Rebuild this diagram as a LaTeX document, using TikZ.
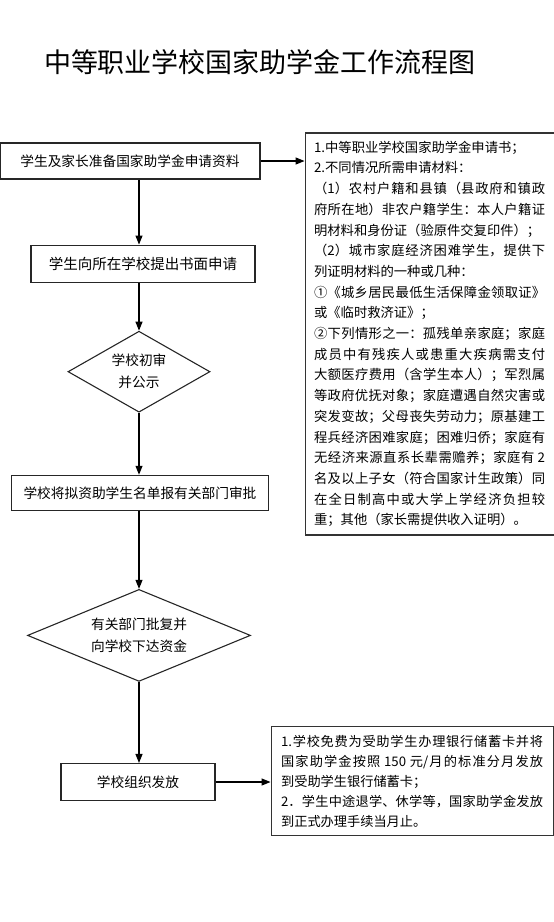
\documentclass[tikz,border=0pt]{standalone}
\usepackage{fontspec}
\setmainfont{Noto Sans CJK SC}
\usetikzlibrary{arrows.meta,positioning,calc,shapes.geometric}
\XeTeXlinebreaklocale "zh"
\XeTeXlinebreakskip=0pt plus 2pt

\begin{document}
\begin{tikzpicture}[
    x=1pt, y=-1pt,
    font=\fontsize{13.7}{22}\selectfont,
    box/.style={rectangle, draw=black!85, line width=1.1pt, align=center, inner sep=0pt},
    decide/.style={diamond, draw=black!85, line width=1.1pt, align=center, inner sep=0pt},
    note/.style={rectangle, draw=black!80, line width=1.1pt, align=justify, inner ysep=0pt},
    arr/.style={-{Triangle[length=9pt,width=7pt]}, line width=1.1pt}
  ]
    \useasboundingbox (0,0) rectangle (554,922);
    \node[font=\fontsize{27}{30}\selectfont] (title) at (260,62) {中等职业学校国家助学金工作流程图};
    \node[box, minimum width=260pt, minimum height=36pt] (prep) at (130,161) {学生及家长准备国家助学金申请资料};
    \node[box, minimum width=224pt, minimum height=37pt, below=65pt of prep, xshift=13pt, font=\fontsize{14.5}{22}\selectfont] (apply) {学生向所在学校提出书面申请};
    \node[decide, aspect=1.75, minimum width=142pt, minimum height=81pt, below=48pt of apply, xshift=-4pt] (check) {学校初审\\并公示};
    \node[box, minimum width=257pt, minimum height=35pt, below=62pt of check, xshift=1pt] (report) {学校将拟资助学生名单报有关部门审批};
    \node[decide, aspect=2.42, minimum width=223pt, minimum height=92pt, below=78pt of report, xshift=-1pt] (approve) {有关部门批复并\\向学校下达资金};
    \node[box, minimum width=154pt, minimum height=37pt, below=81pt of approve, xshift=-1pt] (issue) {学校组织发放};
    % notes on the right
    \node[note, text width=231pt, inner xsep=9pt, minimum height=402pt, anchor=north west,
          font={\fontsize{13.3}{20.7}\selectfont\parskip=0pt}] (needs) at ($(prep.north east)+(44,-10)$) {%
      1.中等职业学校国家助学金申请书；\par
      2.不同情况所需申请材料：\par
      （1）农村户籍和县镇（县政府和镇政\linebreak
      府所在地）非农户籍学生：本人户籍证\linebreak
      明材料和身份证（验原件交复印件）；\par
      （2）城市家庭经济困难学生，提供下\linebreak
      列证明材料的一种或几种：\par
      ①《城乡居民最低生活保障金领取证》\linebreak
      或《临时救济证》；\par
      ②下列情形之一：孤残单亲家庭；家庭\linebreak
      成员中有残疾人或患重大疾病需支付\linebreak
      大额医疗费用（含学生本人）；军烈属\linebreak
      等政府优抚对象；家庭遭遇自然灾害或\linebreak
      突发变故；父母丧失劳动力；原基建工\linebreak
      程兵经济困难家庭；困难归侨；家庭有\linebreak
      无经济来源直系长辈需赡养；家庭有 2\linebreak
      名及以上子女（符合国家计生政策）同\linebreak
      在全日制高中或大学上学经济负担较\linebreak
      重；其他（家长需提供收入证明）。};
    \node[note, text width=262pt, inner xsep=10pt, minimum height=109pt, right=55pt of issue, yshift=1pt,
          font={\fontsize{13.2}{20}\selectfont\parskip=0pt}] (payout) {%
      1.学校免费为受助学生办理银行储蓄卡并将\linebreak
      国家助学金按照 150 元/月的标准分月发放\linebreak
      到受助学生银行储蓄卡；\par
      2．学生中途退学、休学等，国家助学金发放\linebreak
      到正式办理手续当月止。};
    \draw[arr] (prep.east) -- (prep.east -| needs.west);
    \draw[arr] (prep.south -| check.north) -- (apply.north -| check.north);
    \draw[arr] (apply.south -| check.north) -- (check.north);
    \draw[arr] (check.south) -- (report.north -| check.south);
    \draw[arr] (report.south -| approve.north) -- (approve.north);
    \draw[arr] (approve.south) -- (issue.north -| approve.south);
    \draw[arr] (issue.east) -- (payout.west |- issue.east);
  \end{tikzpicture}
\end{document}
